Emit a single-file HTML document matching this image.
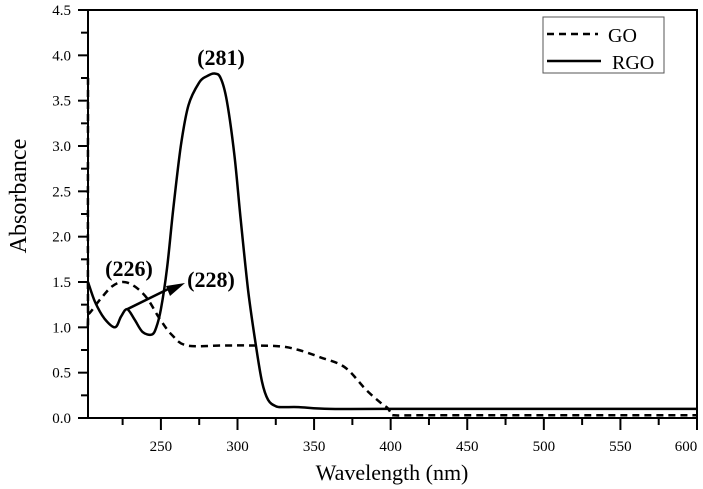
<!DOCTYPE html>
<html><head><meta charset="utf-8"><style>
body{margin:0;background:#fff;}
svg{display:block;font-family:"Liberation Serif",serif;}
</style></head><body>
<svg id="chart" width="703" height="489">
<g id="g"></g>
</svg>
<script>
const goX=[202.4,202.4,203,210,218,225.5,233,241,249,257,267,290,310,328,340,354,370,384,394,398,400,402,420,500,600];
const goY=[3.75,1.2,1.15,1.3,1.45,1.5,1.45,1.32,1.1,0.92,0.8,0.8,0.8,0.79,0.75,0.67,0.56,0.31,0.16,0.11,0.06,0.03,0.03,0.03,0.03];
const rgoX=[202.4,207,213,220,224,228,233,238,244,247,250,254,258,263,268,275,280,285,289,293,298,302,307,312,316,320,325,330,340,360,400,600];
const rgoY=[1.5,1.28,1.1,1.0,1.12,1.2,1.08,0.95,0.92,1.0,1.2,1.65,2.3,3.0,3.45,3.7,3.77,3.8,3.75,3.5,2.9,2.2,1.4,0.8,0.4,0.2,0.13,0.12,0.12,0.1,0.1,0.1];
const xTicks=[250,300,350,400,450,500,550,600];
const yTicks=[0,0.5,1,1.5,2,2.5,3,3.5,4,4.5];
const L=88,R=697,T=10,B=418,XMIN=202.4,XMAX=600,YMAX=4.5;
const sx=v=>L+(v-XMIN)/(XMAX-XMIN)*(R-L);
const sy=v=>B-v/YMAX*(B-T);
const g=document.getElementById('g');
const NS='http://www.w3.org/2000/svg';
function mk(t,a,txt){const e=document.createElementNS(NS,t);for(const k in a)e.setAttribute(k,a[k]);if(txt!=null)e.textContent=txt;g.appendChild(e);return e;}
let e;
e=mk('rect',{x:L,y:T,width:R-L,height:B-T,fill:'none',stroke:'#000','stroke-width':2});


for(let v=225;v<=600;v+=25){const major=v%50===0;
 e=mk('line',{x1:sx(v),x2:sx(v),y1:B,y2:B+(major?12:7),stroke:'#000','stroke-width':2});
 
 }
xTicks.forEach(v=>{e=mk('text',{x:Math.min(sx(v),686),y:451,'font-size':15,'text-anchor':'middle'},String(v));
 
 });
for(let v=0;v<=4.5001;v+=0.25){const major=Math.abs(v*2-Math.round(v*2))<1e-6;
 e=mk('line',{x1:L-(major?10:7),x2:L,y1:sy(v),y2:sy(v),stroke:'#000','stroke-width':2});
 
 }
yTicks.forEach(v=>{e=mk('text',{x:71,y:sy(v)+5,'font-size':15,'text-anchor':'end'},v.toFixed(1));
 
 });
e=mk('text',{x:392,y:480,'font-size':22,'text-anchor':'middle'},'Wavelength (nm)');


e=mk('text',{x:0,y:0,'font-size':24,'text-anchor':'middle',transform:'translate(26,196) rotate(-90)'},'Absorbance');


function smooth(xs,ys){const P=xs.map((x,i)=>[sx(x),sy(ys[i])]);let d='M'+P[0][0].toFixed(1)+' '+P[0][1].toFixed(1);
 for(let i=0;i<P.length-1;i++){const p0=P[Math.max(i-1,0)],p1=P[i],p2=P[i+1],p3=P[Math.min(i+2,P.length-1)];
  const c1=[p1[0]+(p2[0]-p0[0])/6,p1[1]+(p2[1]-p0[1])/6],c2=[p2[0]-(p3[0]-p1[0])/6,p2[1]-(p3[1]-p1[1])/6];
  d+=' C'+c1.map(n=>n.toFixed(1)).join(' ')+' '+c2.map(n=>n.toFixed(1)).join(' ')+' '+p2[0].toFixed(1)+' '+p2[1].toFixed(1);}
 return d;}
e=mk('path',{d:smooth(goX,goY),fill:'none',stroke:'#000','stroke-width':2.5,'stroke-dasharray':'7 5'});


e=mk('path',{d:smooth(rgoX,rgoY),fill:'none',stroke:'#000','stroke-width':2.5,'stroke-linejoin':'round'});


e=mk('line',{x1:sx(228),y1:sy(1.2),x2:168,y2:sy(1.4)-2,stroke:'#000','stroke-width':2.5});


e=mk('polygon',{points:'185,283 166,286 170,296',fill:'#000'});


[['(226)',129,276],['(228)',211,287],['(281)',221,65]].forEach(a=>{
 e=mk('text',{x:a[1],y:a[2],'font-size':22,'font-weight':'bold','text-anchor':'middle'},a[0]);
 
 });
e=mk('rect',{x:543,y:17,width:121,height:56,fill:'#fff',stroke:'#555','stroke-width':1});


e=mk('line',{x1:547,x2:598,y1:34,y2:34,stroke:'#000','stroke-width':2.5,'stroke-dasharray':'7 5'});


e=mk('text',{x:608,y:42,'font-size':20},'GO');


e=mk('line',{x1:547,x2:601,y1:61,y2:61,stroke:'#000','stroke-width':2.5});


e=mk('text',{x:612,y:69,'font-size':20},'RGO');


</script>
</body></html>
